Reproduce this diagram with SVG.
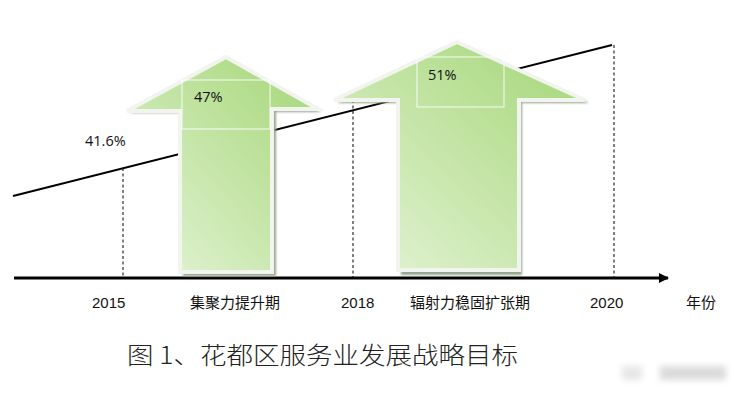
<svg xmlns="http://www.w3.org/2000/svg" width="742" height="397" viewBox="0 0 742 397">
<style>
.lbl{font-family:"Liberation Sans","Noto Sans CJK SC",sans-serif;font-size:15px;fill:#111}
.pct{font-family:"Open Sans","Liberation Sans",sans-serif;font-size:14.5px;fill:#111}
.dash{stroke:#000;stroke-width:1;stroke-dasharray:3 2.5;fill:none}
.arrow{fill:url(#g);stroke:#f2f4f0;stroke-width:4;stroke-linejoin:miter}
.shadow{fill:#96a58e;filter:url(#b)}
.inner{fill:none;stroke:#ffffff;stroke-width:1;opacity:0.9}
</style>
<defs>
<linearGradient id="g" x1="1" y1="0" x2="0" y2="1">
<stop offset="0" stop-color="#a3d675"/>
<stop offset="1" stop-color="#e6f4d9"/>
</linearGradient>
<filter id="b" x="-10%" y="-10%" width="120%" height="120%"><feGaussianBlur stdDeviation="1"/></filter>
<filter id="wm" x="-20%" y="-50%" width="140%" height="200%"><feGaussianBlur stdDeviation="3"/></filter>
<marker id="ah" markerWidth="10" markerHeight="10" refX="9" refY="5" orient="auto" markerUnits="userSpaceOnUse">
<path d="M0,0 L10,5 L0,10 Z" fill="#000"/>
</marker>
</defs>
<g id="connectors">
<line x1="13" y1="196" x2="612" y2="45" stroke="#000" stroke-width="2"/>
<line class="dash" x1="123" y1="168" x2="123" y2="278"/>
<line class="dash" x1="353" y1="100" x2="353" y2="278"/>
<line class="dash" x1="614" y1="45" x2="614" y2="278"/>
<line x1="14" y1="278" x2="668" y2="278" stroke="#000" stroke-width="3" marker-end="url(#ah)"/>
</g>
<g id="arrow1">
<path class="shadow" d="M130,113 L229,59 L321,112 L276,112 L276,276 L183,276 L183,113 Z"/>
<path class="arrow" d="M127,111 L226,57 L318,109 L272,109 L272,272 L180,272 L180,111 Z"/>
<rect class="inner" x="182" y="80" width="88" height="49"/>
<text class="pct" x="194" y="102">47%</text>
</g>
<g id="arrow2">
<path class="shadow" d="M337,103 L460,45 L589,103 L522,103 L522,275 L401,275 L401,103 Z"/>
<path class="arrow" d="M334,100 L457,42 L585,100 L519,100 L519,270 L398,270 L398,100 Z"/>
<rect class="inner" x="417" y="57" width="87" height="50"/>
<text class="pct" x="428" y="80">51%</text>
</g>
<g id="labels">
<text class="pct" x="85" y="146">41.6%</text>
<text class="lbl" x="92" y="308">2015</text>
<text class="lbl" x="190" y="308">集聚力提升期</text>
<text class="lbl" x="341" y="308">2018</text>
<text class="lbl" x="410" y="308">辐射力稳固扩张期</text>
<text class="lbl" x="590" y="308">2020</text>
<text class="lbl" x="686" y="308">年份</text>
<text x="127" y="364" font-family="Noto Sans CJK SC, sans-serif" font-weight="300" font-size="24" fill="#222" textLength="391" lengthAdjust="spacingAndGlyphs">图 1、花都区服务业发展战略目标</text>
</g>
<g id="watermark" filter="url(#wm)" opacity="0.35">
<rect x="622" y="366" width="20" height="14" fill="#bbb"/>
<rect x="660" y="366" width="66" height="14" fill="#999"/>
</g>
</svg>
